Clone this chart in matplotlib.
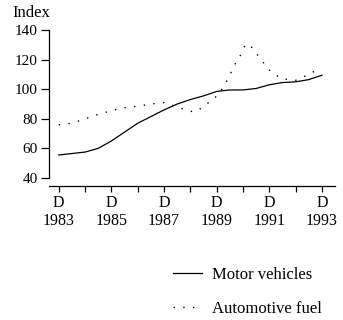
import matplotlib.pyplot as plt

plt.rcParams['font.family'] = ['Liberation Serif', 'DejaVu Serif']

# Motor vehicles index, half-yearly
mv_years = [1983.0, 1983.5, 1984.0, 1984.5, 1985.0, 1985.5, 1986.0, 1986.5,
            1987.0, 1987.5, 1988.0, 1988.5, 1989.0, 1989.5, 1990.0, 1990.5,
            1991.0, 1991.5, 1992.0, 1992.5, 1993.0]
mv_index = [55.5, 56.5, 57.5, 60, 65, 71, 77, 81.5,
            86, 90, 93, 95.5, 98.5, 99.5, 99.5, 100.5,
            103, 104.5, 105, 106.5, 109.5]

# Automotive fuel index
fuel_years = [1983.0, 1983.5, 1984.0, 1984.5, 1985.0, 1985.5, 1986.0, 1986.5,
              1987.0, 1987.5, 1988.0, 1988.25, 1988.5, 1988.85, 1989.1, 1989.4,
              1989.7, 1989.85, 1990.1, 1990.3, 1990.6, 1990.95, 1991.1, 1991.5,
              1992.0, 1992.5, 1992.7, 1993.0]
fuel_index = [76, 77, 80, 83, 85.5, 87.5, 88.5, 90,
              91, 88, 85, 85, 88.5, 93, 97, 106,
              117, 121, 130.5, 129, 122, 114, 111, 107,
              106, 110, 112, 112]

tick_years = [1983, 1985, 1987, 1989, 1991, 1993]
tick_labels = ['D\n1983', 'D\n1985', 'D\n1987', 'D\n1989', 'D\n1991', 'D\n1993']
y_ticks = [40, 60, 80, 100, 120, 140]

fig = plt.figure(figsize=(3.43, 3.20), dpi=100)
ax = fig.add_axes([0.143, 0.444, 0.834, 0.462])

ax.plot(mv_years, mv_index, color='black', lw=0.9, label='Motor vehicles')
ax.plot(fuel_years, fuel_index, color='black', lw=1.0,
        linestyle=(0, (1, 6)), label='Automotive fuel')

ax.set_xlim(1982.63, 1993.5)
ax.set_ylim(40, 140)
ax.set_yticks(y_ticks)
ax.set_xticks(range(1983, 1994), minor=True)
ax.set_xticks(tick_years)
ax.set_xticklabels(tick_labels, linespacing=0.85)

for side in ['top', 'right']:
    ax.spines[side].set_visible(False)
ax.spines['bottom'].set_position(('outward', 6))
ax.spines['left'].set_linewidth(0.9)
ax.spines['bottom'].set_linewidth(0.9)

ax.tick_params(axis='x', which='both', direction='out', width=0.9,
               length=4, labelsize=11.5, pad=2)
ax.tick_params(axis='y', direction='out', width=0.9,
               length=6, labelsize=11, pad=2)

fig.text(0.035, 0.959, 'Index', fontsize=12, va='center', ha='left')

# legend sits below the plot, right of centre
fig.legend(loc='upper left', bbox_to_anchor=(0.504, 0.1666), frameon=False,
           fontsize=12, handlelength=1.75, handletextpad=0.6,
           labelspacing=1.1, borderpad=0, borderaxespad=0)

fig.savefig('out.png', dpi=100)
